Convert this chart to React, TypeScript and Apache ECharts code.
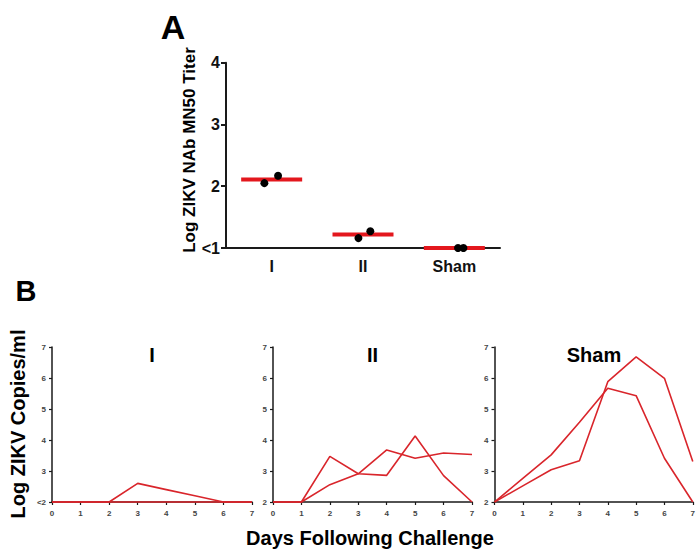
import React, { useEffect, useRef } from "react";
import * as echarts from "echarts";

// ---------- Panel A data ----------
const groupLabels = ["I", "II", "Sham"];
const titerPointsI = [2.05, 2.17];
const titerPointsII = [1.16, 1.27];
const titerPointsSham = [1.0, 1.0];
const titerJitterI = [-0.08, 0.07];
const titerJitterII = [-0.05, 0.08];
const titerJitterSham = [0.04, 0.1];
const titerMeans = [2.11, 1.22, 1.0];
const titerTicks = [1, 2, 3, 4];

// ---------- Panel B data ----------
const days = [0, 1, 2, 3, 4, 5, 6, 7];
const viralI_1 = [2, 2, 2, 2.6, 2.4, 2.2, 2, 2];
const viralI_2 = [2, 2, 2, 2, 2, 2, 2, 2];
const viralII_1 = [2, 2, 3.47, 2.91, 2.86, 4.13, 2.85, 2];
const viralII_2 = [2, 2, 2.56, 2.91, 3.68, 3.41, 3.58, 3.53];
const viralSham_1 = [2, 2.76, 3.52, 4.57, 5.67, 5.43, 3.41, 2];
const viralSham_2 = [2, 2.52, 3.04, 3.33, 5.88, 6.68, 5.99, 3.31];
const subplotTitles = ["I", "II", "Sham"];

const FONT = "'Liberation Sans', Arial, Helvetica, sans-serif";
const RED_A = "#e3171d";
const RED_B = "#d9252b";
const AXIS = "#1a1a1a";

export default function App() {
  const ref = useRef<HTMLDivElement>(null);

  useEffect(() => {
    document.body.style.margin = "0";
    const chart = echarts.init(ref.current!, null, { renderer: "svg" });

    const jitterPts = (center: number, jit: number[], vals: number[]) =>
      vals.map((v, i) => [center + jit[i], v]);

    const bGrids = [
      { left: 52, width: 200 },
      { left: 273, width: 199 },
      { left: 494.5, width: 199 },
    ];
    const bSeriesData = [
      [viralI_1, viralI_2],
      [viralII_1, viralII_2],
      [viralSham_1, viralSham_2],
    ];

    const grids: any[] = [
      { left: 226, right: 198, top: 62.7, bottom: 303, containLabel: false },
      ...bGrids.map((g) => ({ left: g.left, width: g.width, top: 347, bottom: 49 })),
    ];

    const xAxes: any[] = [
      {
        type: "category",
        gridIndex: 0,
        data: groupLabels,
        boundaryGap: true,
        axisLine: { onZero: false, lineStyle: { color: AXIS, width: 2 } },
        axisTick: { show: false },
        axisLabel: { fontFamily: FONT, fontWeight: "bold", fontSize: 16, color: "#111", margin: 10 },
        splitLine: { show: false },
      },
      { type: "value", gridIndex: 0, min: -0.5, max: 2.5, show: false },
      ...bGrids.map((_, i) => ({
        type: "value",
        gridIndex: i + 1,
        min: 0,
        max: 7,
        interval: 1,
        axisLine: { onZero: false, lineStyle: { color: AXIS, width: 1.5 } },
        axisTick: { show: true, length: 3, lineStyle: { color: AXIS, width: 1.2 } },
        axisLabel: { fontFamily: FONT, fontWeight: "bold", fontSize: 8, color: "#444", margin: 7 },
        splitLine: { show: false },
      })),
    ];

    const yAxes: any[] = [
      {
        type: "value",
        gridIndex: 0,
        min: 1,
        max: 4,
        interval: 1,
        axisLine: { show: true, onZero: false, lineStyle: { color: AXIS, width: 2 } },
        axisTick: { show: true, length: 5, lineStyle: { color: AXIS, width: 2 } },
        axisLabel: {
          fontFamily: FONT,
          fontWeight: "bold",
          fontSize: 16,
          color: "#111",
          margin: 6,
          formatter: (v: number) => (v === titerTicks[0] ? "<1" : String(v)),
        },
        splitLine: { show: false },
      },
      ...bGrids.map((_, i) => ({
        type: "value",
        gridIndex: i + 1,
        min: 2,
        max: 7,
        interval: 1,
        axisLine: { show: true, onZero: false, lineStyle: { color: AXIS, width: 1.5 } },
        axisTick: { show: true, length: 3, lineStyle: { color: AXIS, width: 1.2 } },
        axisLabel: {
          fontFamily: FONT,
          fontWeight: "bold",
          fontSize: 8,
          color: "#444",
          margin: 6,
          formatter: (v: number) => (i === 0 && v === 2 ? "<2" : String(v)),
        },
        splitLine: { show: false },
      })),
    ];

    const series: any[] = [
      {
        type: "scatter",
        xAxisIndex: 0,
        yAxisIndex: 0,
        symbol: "rect",
        symbolSize: [61, 4],
        itemStyle: { color: RED_A, opacity: 1 },
        data: titerMeans,
        z: 2,
      },
      {
        type: "scatter",
        xAxisIndex: 1,
        yAxisIndex: 0,
        symbol: "circle",
        symbolSize: 8,
        itemStyle: { color: "#000", opacity: 1 },
        data: [
          ...jitterPts(0, titerJitterI, titerPointsI),
          ...jitterPts(1, titerJitterII, titerPointsII),
          ...jitterPts(2, titerJitterSham, titerPointsSham),
        ],
        z: 3,
      },
    ];

    bSeriesData.forEach((lines, gi) => {
      lines.forEach((vals) => {
        series.push({
          type: "line",
          xAxisIndex: gi + 2,
          yAxisIndex: gi + 1,
          data: days.map((d, k) => [d, vals[k]]),
          showSymbol: false,
          symbol: "none",
          clip: false,
          lineStyle: { color: RED_B, width: 1.6 },
          z: 3,
        });
      });
    });

    const titleText = (txt: string, x: number, y: number, size: number, rot = 0) => ({
      type: "text",
      x,
      y,
      rotation: rot,
      style: {
        text: txt,
        font: `bold ${size}px ${FONT}`,
        fill: "#000",
        align: "center",
        verticalAlign: "middle",
      },
    });

    const graphic: any[] = [
      titleText("A", 173, 27, 34),
      titleText("B", 26, 291, 29),
      titleText("Log ZIKV NAb MN50 Titer", 189, 150, 17, Math.PI / 2),
      titleText("Log ZIKV Copies/ml", 18, 424, 20, Math.PI / 2),
      titleText("Days Following Challenge", 370, 538, 20),
      ...subplotTitles.map((t, i) => titleText(t, bGrids[i].left + bGrids[i].width / 2, 355, 20)),
    ];

    chart.setOption({
      animation: false,
      backgroundColor: "#fff",
      grid: grids,
      xAxis: xAxes,
      yAxis: yAxes,
      series,
      graphic,
    });

    return () => chart.dispose();
  }, []);

  return <div ref={ref} style={{ width: 698, height: 551 }} />;
}
